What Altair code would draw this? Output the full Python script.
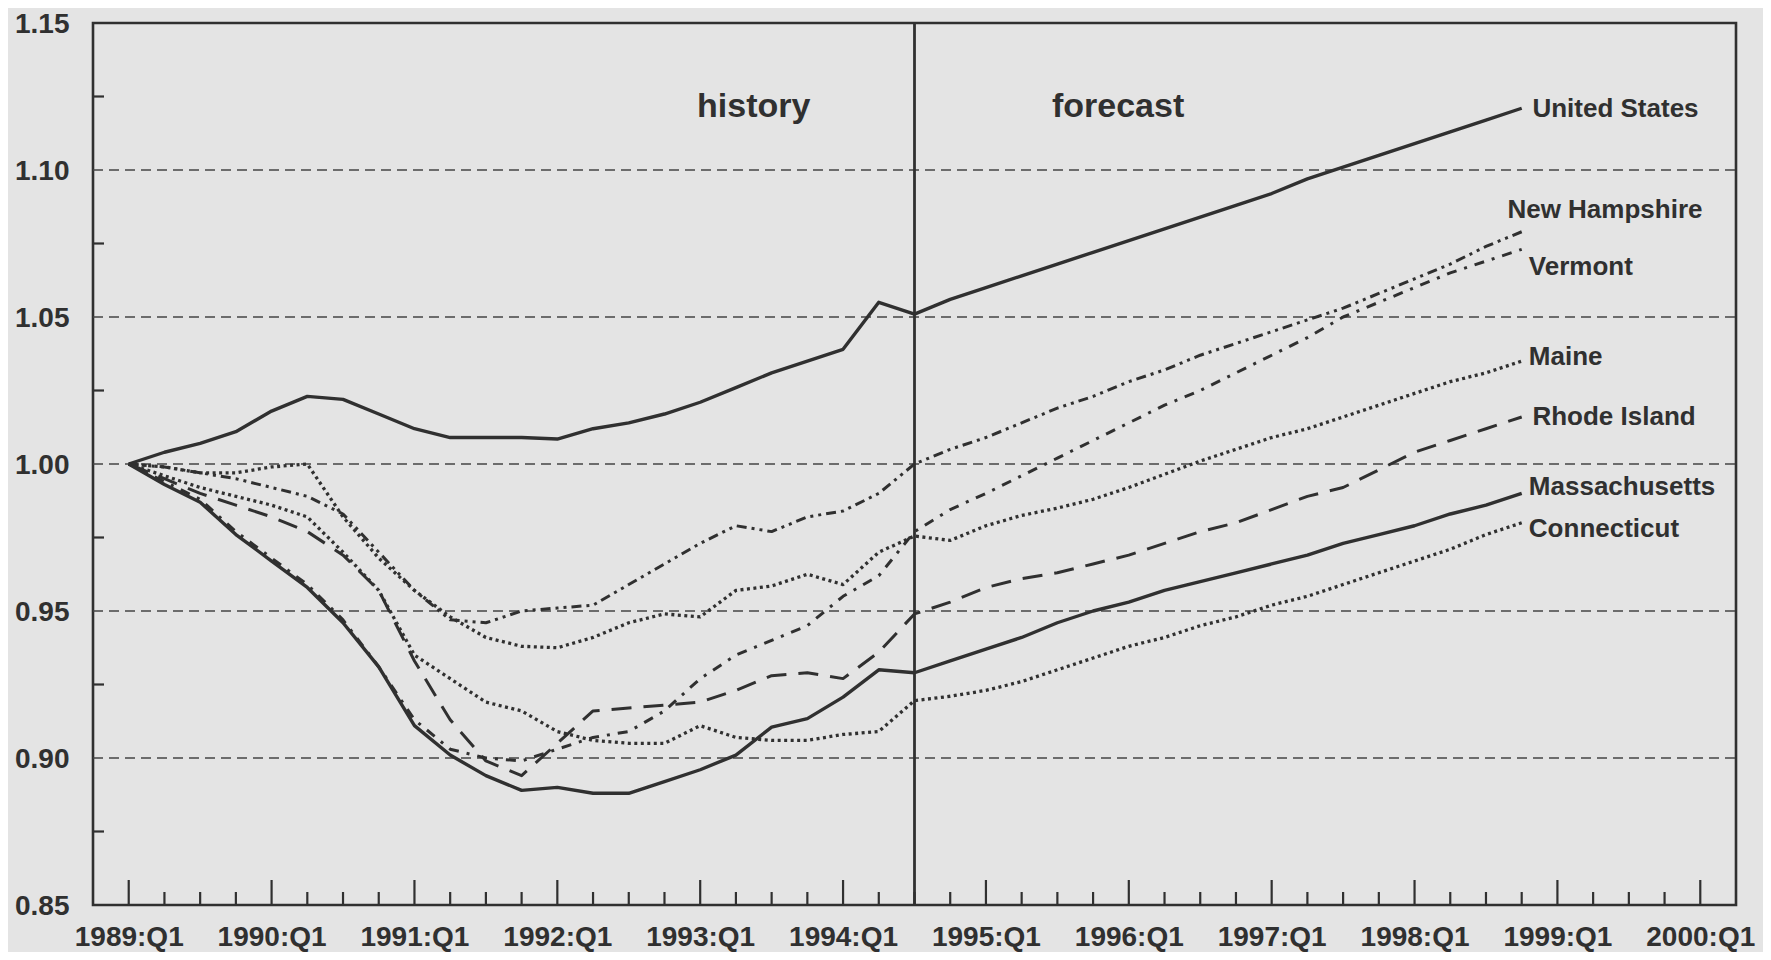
import json
import altair as alt
import pandas as pd

# ---------------- data (quarter index 0 = 1989:Q1 ... 39 = 1998:Q4) ----------------
quarters = list(range(40))

united_states = [1.000, 1.004, 1.007, 1.011, 1.018, 1.023, 1.022, 1.017, 1.012, 1.009,
                 1.009, 1.009, 1.0085, 1.012, 1.014, 1.017, 1.021, 1.026, 1.031, 1.035,
                 1.039, 1.055, 1.051, 1.056, 1.060, 1.064, 1.068, 1.072, 1.076, 1.080,
                 1.084, 1.088, 1.092, 1.097, 1.101, 1.105, 1.109, 1.113, 1.117, 1.121]

new_hampshire = [1.000, 0.999, 0.997, 0.995, 0.992, 0.989, 0.983, 0.970, 0.957, 0.947,
                 0.946, 0.950, 0.951, 0.952, 0.959, 0.966, 0.973, 0.979, 0.977, 0.982,
                 0.984, 0.990, 1.000, 1.005, 1.009, 1.014, 1.019, 1.023, 1.028, 1.032,
                 1.037, 1.041, 1.045, 1.049, 1.053, 1.058, 1.063, 1.068, 1.074, 1.079]

vermont = [1.000, 0.994, 0.988, 0.977, 0.968, 0.959, 0.947, 0.931, 0.913, 0.903,
           0.900, 0.899, 0.903, 0.907, 0.909, 0.916, 0.927, 0.935, 0.940, 0.945,
           0.955, 0.962, 0.977, 0.9845, 0.990, 0.996, 1.002, 1.008, 1.014, 1.020,
           1.025, 1.031, 1.037, 1.043, 1.050, 1.055, 1.060, 1.065, 1.069, 1.073]

maine = [1.000, 0.999, 0.997, 0.997, 0.999, 1.000, 0.982, 0.968, 0.957, 0.948,
         0.941, 0.938, 0.9375, 0.941, 0.946, 0.949, 0.948, 0.957, 0.9585, 0.9625,
         0.959, 0.970, 0.9755, 0.974, 0.979, 0.9825, 0.985, 0.988, 0.992, 0.9965,
         1.001, 1.005, 1.009, 1.012, 1.016, 1.020, 1.024, 1.028, 1.031, 1.035]

rhode_island = [1.000, 0.995, 0.990, 0.986, 0.982, 0.977, 0.969, 0.957, 0.933, 0.913,
                0.899, 0.894, 0.905, 0.916, 0.917, 0.918, 0.919, 0.923, 0.928, 0.929,
                0.927, 0.936, 0.949, 0.953, 0.958, 0.961, 0.963, 0.966, 0.969, 0.973,
                0.977, 0.980, 0.9845, 0.989, 0.992, 0.998, 1.004, 1.008, 1.012, 1.016]

massachusetts = [1.000, 0.993, 0.987, 0.976, 0.967, 0.958, 0.946, 0.931, 0.911, 0.901,
                 0.894, 0.889, 0.890, 0.888, 0.888, 0.892, 0.896, 0.901, 0.9105, 0.9134,
                 0.9207, 0.930, 0.929, 0.933, 0.937, 0.941, 0.946, 0.950, 0.953, 0.957,
                 0.960, 0.963, 0.966, 0.969, 0.973, 0.976, 0.979, 0.983, 0.986, 0.990]

connecticut = [1.000, 0.996, 0.992, 0.989, 0.986, 0.982, 0.970, 0.957, 0.935, 0.927,
               0.919, 0.916, 0.909, 0.906, 0.905, 0.905, 0.911, 0.907, 0.906, 0.906,
               0.908, 0.909, 0.9195, 0.921, 0.923, 0.926, 0.930, 0.934, 0.938, 0.941,
               0.945, 0.948, 0.952, 0.955, 0.959, 0.963, 0.967, 0.971, 0.976, 0.980]

series_names = ["United States", "New Hampshire", "Vermont", "Maine",
                "Rhode Island", "Massachusetts", "Connecticut"]
series_values = [united_states, new_hampshire, vermont, maine,
                 rhode_island, massachusetts, connecticut]

tick_labels = ["1989:Q1", "1990:Q1", "1991:Q1", "1992:Q1", "1993:Q1", "1994:Q1",
               "1995:Q1", "1996:Q1", "1997:Q1", "1998:Q1", "1999:Q1", "2000:Q1"]
y_ticks = [0.85, 0.90, 0.95, 1.00, 1.05, 1.10, 1.15]
grid_values = [0.90, 0.95, 1.00, 1.05, 1.10]
minor_y = [0.875, 0.925, 0.975, 1.025, 1.075, 1.125]
period_labels = ["history", "forecast"]
forecast_start = 22  # 1994:Q3

# ---------------- styles / positions ----------------
W, H = 1643, 882
INK = "#303030"
BG = "#e4e4e4"
FONT = "Liberation Sans"

styles = {
    "United States": dict(strokeWidth=3.4),
    "New Hampshire": dict(strokeWidth=3.0, strokeDash=[10, 5, 3, 5, 3, 5]),
    "Vermont": dict(strokeWidth=3.0, strokeDash=[10, 8, 3, 8]),
    "Maine": dict(strokeWidth=3.3, strokeDash=[3, 3.5]),
    "Rhode Island": dict(strokeWidth=3.0, strokeDash=[20, 12]),
    "Massachusetts": dict(strokeWidth=3.4),
    "Connecticut": dict(strokeWidth=3.3, strokeDash=[3, 3.5]),
}
label_pos = {
    "United States": (39.3, 1.1209),
    "New Hampshire": (38.6, 1.0865),
    "Vermont": (39.2, 1.067),
    "Maine": (39.2, 1.0363),
    "Rhode Island": (39.3, 1.0161),
    "Massachusetts": (39.2, 0.9923),
    "Connecticut": (39.2, 0.9778),
}
period_pos = [(17.5, 1.1213), (27.7, 1.1213)]

# ---------------- tables ----------------
rows = []
for name, vals in zip(series_names, series_values):
    for q, v in zip(quarters, vals):
        rows.append({"series": name, "q": q, "v": v})
df = pd.DataFrame(rows)

xs = alt.Scale(domain=[-1, 45], nice=False, zero=False)
ys = alt.Scale(domain=[0.85, 1.15], nice=False, zero=False)

major_q = [4 * i for i in range(len(tick_labels))]
minor_q = [q for q in range(0, 45) if q % 4 != 0]

x_axis = alt.Axis(values=major_q,
                  labelExpr=f"{json.dumps(tick_labels)}[round(datum.value / 4)]",
                  labelFontSize=28, labelFontWeight="bold", labelFont=FONT,
                  labelColor=INK, ticks=False, domain=False, grid=False,
                  labelPadding=18, labelFlush=False, labelOverlap=False,
                  labelBound=False, title=None)
y_axis = alt.Axis(values=y_ticks, format=".2f",
                  labelFontSize=28, labelFontWeight="bold", labelFont=FONT,
                  labelColor=INK, ticks=False, domain=False, grid=False,
                  labelPadding=24, labelOffset=1, labelFlush=False, labelOverlap=False,
                  labelBound=False, title=None)


def X(field):
    return alt.X(field, type="quantitative", scale=xs, axis=x_axis)


def Y(field):
    return alt.Y(field, type="quantitative", scale=ys, axis=y_axis)


grid = alt.Chart(pd.DataFrame({"v": grid_values})).mark_rule(
    color="#444444", strokeWidth=1.6, strokeDash=[10, 6]
).encode(y=Y("v"), x=alt.value(0), x2=alt.value(W))

sep = alt.Chart(pd.DataFrame({"q": [forecast_start]})).mark_rule(
    color=INK, strokeWidth=2.8
).encode(x=X("q"), y=alt.value(0), y2=alt.value(H))

major_ticks = alt.Chart(pd.DataFrame({"q": major_q})).mark_rule(
    color=INK, strokeWidth=2.2
).encode(x=X("q"), y=alt.value(H), y2=alt.value(H - 25))

minor_ticks = alt.Chart(pd.DataFrame({"q": minor_q})).mark_rule(
    color=INK, strokeWidth=2.2
).encode(x=X("q"), y=alt.value(H), y2=alt.value(H - 13))

y_minor = alt.Chart(pd.DataFrame({"v": minor_y})).mark_rule(
    color=INK, strokeWidth=2.2
).encode(y=Y("v"), x=alt.value(0), x2=alt.value(11))

lines = []
for name in series_names:
    lines.append(
        alt.Chart(df).transform_filter(alt.datum.series == name).mark_line(
            color=INK, strokeJoin="round", **styles[name]
        ).encode(x=X("q"), y=Y("v"), order="q:Q")
    )

lab_df = pd.DataFrame({"series": series_names,
                       "q": [label_pos[n][0] for n in series_names],
                       "v": [label_pos[n][1] for n in series_names]})
labels = alt.Chart(lab_df).mark_text(
    align="left", baseline="middle", fontSize=26, fontWeight="bold", font=FONT, color=INK
).encode(x=X("q"), y=Y("v"), text="series:N")

per_df = pd.DataFrame({"t": period_labels,
                       "q": [p[0] for p in period_pos],
                       "v": [p[1] for p in period_pos]})
periods = alt.Chart(per_df).mark_text(
    align="center", baseline="middle", fontSize=34, fontWeight="bold", font=FONT, color=INK
).encode(x=X("q"), y=Y("v"), text="t:N")

chart = alt.layer(grid, sep, major_ticks, minor_ticks, y_minor, *lines, labels, periods).properties(
    width=W, height=H,
    autosize=alt.AutoSizeParams(type="none"),
    padding={"left": 85, "top": 15, "right": 27, "bottom": 47},
    background=BG,
).configure_view(
    stroke=INK, strokeWidth=2.6, fill=BG
)

chart.save("out.html", embed_options={"renderer": "svg", "actions": False})
